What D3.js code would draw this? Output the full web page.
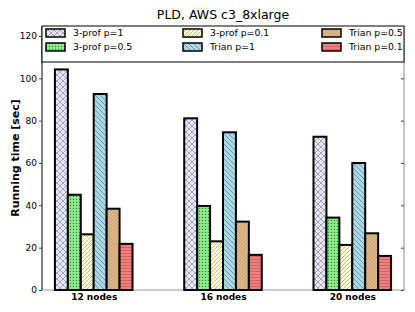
<!DOCTYPE html>
<html><head><meta charset="utf-8">
<script src="https://cdn.jsdelivr.net/npm/d3@7"></script>
<style>body{margin:0;background:#fff;} svg{display:block;font-family:"DejaVu Sans",sans-serif;}</style>
</head><body><svg id="c" width="415" height="312"></svg>
<script>
const categories = ["12 nodes", "16 nodes", "20 nodes"];
const seriesNames = ["3-prof p=1", "3-prof p=0.5", "3-prof p=0.1", "Trian p=1", "Trian p=0.5", "Trian p=0.1"];
const prof1  = [104.2, 81.1, 72.4];
const prof05 = [45.0, 39.7, 34.2];
const prof01 = [26.3, 23.0, 21.3];
const trian1  = [92.6, 74.5, 60.0];
const trian05 = [38.4, 32.3, 26.8];
const trian01 = [21.8, 16.6, 16.1];
const seriesValues = [prof1, prof05, prof01, trian1, trian05, trian01];
const yTicks = [0, 20, 40, 60, 80, 100, 120];
const colors = ["#e6e6fa", "#90ee90", "#fafad2", "#add8e6", "#deb887", "#f08080"];

const svg = d3.select("#c");
const L = 42, R = 404, T = 26, B = 290;
const x = d3.scaleLinear().domain([-0.1, 2.7]).range([L, R]);
const y = d3.scaleLinear().domain([0, 125]).range([B, 25.4]);
const bw = 0.1;

// hatch patterns
const defs = svg.append("defs");
function pat(id, size, bg, draw) {
  const p = defs.append("pattern").attr("id", id).attr("patternUnits", "userSpaceOnUse")
    .attr("width", size).attr("height", size);
  p.append("rect").attr("width", size).attr("height", size).attr("fill", bg);
  draw(p, size);
}
pat("h0", 6, colors[0], (p, s) => {
  p.append("path").attr("d", `M0,0L${s},${s}M0,${s}L${s},0M-1,1L1,-1M${s-1},${s+1}L${s+1},${s-1}`)
    .attr("stroke", "#7a7a90").attr("stroke-width", 0.6).attr("fill", "none");
});
pat("h1", 3, colors[1], (p, s) => {
  p.append("rect").attr("x", 0.8).attr("y", 0.8).attr("width", 1.3).attr("height", 1.3).attr("fill", "#3a8a3a");
});
pat("h2", 4, colors[2], (p, s) => {
  p.append("path").attr("d", `M0,${s}L${s},0M-1,1L1,-1M${s-1},${s+1}L${s+1},${s-1}`)
    .attr("stroke", "#a0a070").attr("stroke-width", 0.6);
});
pat("h3", 5, colors[3], (p, s) => {
  p.append("path").attr("d", `M0,0L${s},${s}M-1,${s-1}L1,${s+1}M${s-1},-1L${s+1},1`)
    .attr("stroke", "#4a6a88").attr("stroke-width", 0.6);
});
pat("h4", 3.5, colors[4], (p, s) => {
  p.append("path").attr("d", `M0,${s}L${s},0M-1,1L1,-1M${s-1},${s+1}L${s+1},${s-1}`)
    .attr("stroke", "#a08058").attr("stroke-width", 0.45);
});
pat("h5", 3, colors[5], (p, s) => {
  p.append("path").attr("d", `M0,1.5L${s},1.5`).attr("stroke", "#b85050").attr("stroke-width", 0.6);
});

// spines
svg.append("line").attr("x1", L).attr("x2", R).attr("y1", B).attr("y2", B).attr("stroke", "#999").attr("stroke-width", 1.2);
svg.append("line").attr("x1", R).attr("x2", R).attr("y1", T).attr("y2", B).attr("stroke", "#888").attr("stroke-width", 1);
svg.append("line").attr("x1", L).attr("x2", L).attr("y1", T).attr("y2", B).attr("stroke", "#000").attr("stroke-width", 1);

// y axis
const yAxis = d3.axisLeft(y).tickValues(yTicks).tickSize(3).tickPadding(2).tickFormat(d3.format("d"));
const ga = svg.append("g").attr("transform", `translate(${L},0)`).call(yAxis);
ga.select(".domain").remove();
ga.selectAll("text").attr("font-size", 9).attr("font-family", "DejaVu Sans, sans-serif").attr("fill", "#000");
ga.selectAll("line").attr("stroke", "#444");
const gr = svg.append("g").attr("transform", `translate(${R},0)`).call(d3.axisLeft(y).tickValues(yTicks).tickSize(3).tickFormat(""));
gr.select(".domain").remove();
gr.selectAll("line").attr("x2", -3).attr("stroke", "#444");

// bars
seriesValues.forEach((vals, i) => {
  svg.append("g").selectAll("rect").data(vals).join("rect")
    .attr("x", (d, g) => x(g + i * bw))
    .attr("width", x(bw) - x(0))
    .attr("y", d => y(d))
    .attr("height", d => y(0) - y(d))
    .attr("fill", `url(#h${i})`)
    .attr("stroke", "#000").attr("stroke-width", 2);
});

// x labels
const xAxis = d3.axisBottom(x).tickValues(categories.map((c, g) => g + 0.3)).tickSize(0).tickPadding(4)
  .tickFormat((d, k) => categories[k]);
const gx = svg.append("g").attr("transform", `translate(0,${B})`).call(xAxis);
gx.select(".domain").remove();
gx.selectAll("text").attr("font-size", 9).attr("font-weight", "bold").attr("font-family", "DejaVu Sans, sans-serif").attr("fill", "#000");

// legend
svg.append("rect").attr("x", L).attr("y", T).attr("width", R - L).attr("height", 36)
  .attr("fill", "#fff").attr("stroke", "#000").attr("stroke-width", 1);
const colX = [46, 183, 322], rowY = [33, 47];
seriesNames.forEach((n, i) => {
  const cx = colX[Math.floor(i / 2)], cy = rowY[i % 2];
  svg.append("rect").attr("x", cx).attr("y", cy - 4).attr("width", 19).attr("height", 8)
    .attr("fill", `url(#h${i})`).attr("stroke", "#000").attr("stroke-width", 1.5);
  svg.append("text").attr("x", cx + 27).attr("y", cy).attr("dy", "0.35em")
    .attr("font-size", 9.3).text(n);
});

// title and y label
svg.append("text").attr("x", (L + R) / 2).attr("y", 19).attr("text-anchor", "middle").attr("font-size", 12.5).text("PLD, AWS c3_8xlarge");
svg.append("text").attr("transform", `translate(19,${(T + B) / 2}) rotate(-90)`).attr("text-anchor", "middle")
  .attr("font-size", 11).attr("font-weight", "bold").text("Running time [sec]");
</script></body></html>
